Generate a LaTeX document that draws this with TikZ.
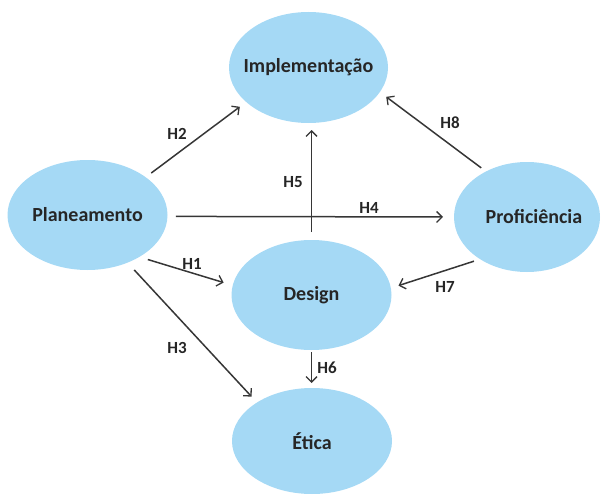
\documentclass[tikz,border=0pt]{standalone}
\usepackage{fontspec}
\setmainfont{Carlito}
\usetikzlibrary{shapes.geometric,arrows.meta}
\definecolor{cfill}{HTML}{A5D9F5}
\definecolor{ctext}{HTML}{262626}
\definecolor{cline}{HTML}{363636}
\tikzset{
  construct/.style={ellipse, fill=cfill, draw=none, inner sep=0pt, outer sep=0pt,
    minimum width=160pt, minimum height=110pt, text=ctext,
    font=\bfseries\fontsize{20}{24}\selectfont},
  hlab/.style={text=ctext, inner sep=0pt, font=\bfseries\fontsize{17}{20}\selectfont},
  path/.style={draw=cline, line width=1.5pt, -{Straight Barb[length=5.5pt,width=11pt,line width=1.3pt]}}
}
\begin{document}
\begin{tikzpicture}[x=1pt,y=-1pt]
\useasboundingbox (0,0) rectangle (603,495);

% constructs
\node[construct, minimum width=159pt, minimum height=111pt] (impl) at (308.5,67.5) {\makebox[0pt]{Implementação}};
\node[construct] (plan) at (87.5,215) {\makebox[0pt]{Planeamento}};
\node[construct] (design) at (311.5,295) {\makebox[0pt]{Design}};
\node[construct, minimum height=106pt] (etica) at (312,441) {\makebox[0pt]{Ética}};
\node[construct, minimum width=146pt] (prof) at (527,217) {\makebox[0pt]{\hspace*{14pt}Proficiência}};

% hypotheses
\draw[path, shorten <=7pt, shorten >=8pt] (plan.33.5) -- (impl.209.6);
\draw[path, shorten <=8.5pt, shorten >=11pt] (plan.-1.4) -- (prof.180);
\draw[path, shorten <=8pt, shorten >=7pt] (design.north) -- (design.north |- impl.south);
\draw[path, shorten <=6pt, shorten >=8pt] (prof.132) -- (impl.-19.3);
\draw[path, shorten <=9pt, shorten >=9.5pt] (plan.-39.4) -- (design.173.5);
\draw[path, shorten <=6.5pt, shorten >=8pt] (prof.222.6) -- (design.5.2);
\draw[path, shorten <=10pt, shorten >=8pt] (plan.-50.9) -- (etica.145.3);
\draw[path, shorten <=2pt, shorten >=5pt] (design.south) -- (design.south |- etica.north);

% labels
\node[hlab] (l1) at (192,264) {H1};
\node[hlab] (l2) at (177,134) {H2};
\node[hlab] (l3) at (177,348) {H3};
\node[hlab] (l4) at (369,208) {H4};
\node[hlab] (l5) at (293,182) {H5};
\node[hlab] (l6) at (327,368) {H6};
\node[hlab] (l7) at (445,287) {H7};
\node[hlab] (l8) at (450,123) {H8};
\end{tikzpicture}
\end{document}
